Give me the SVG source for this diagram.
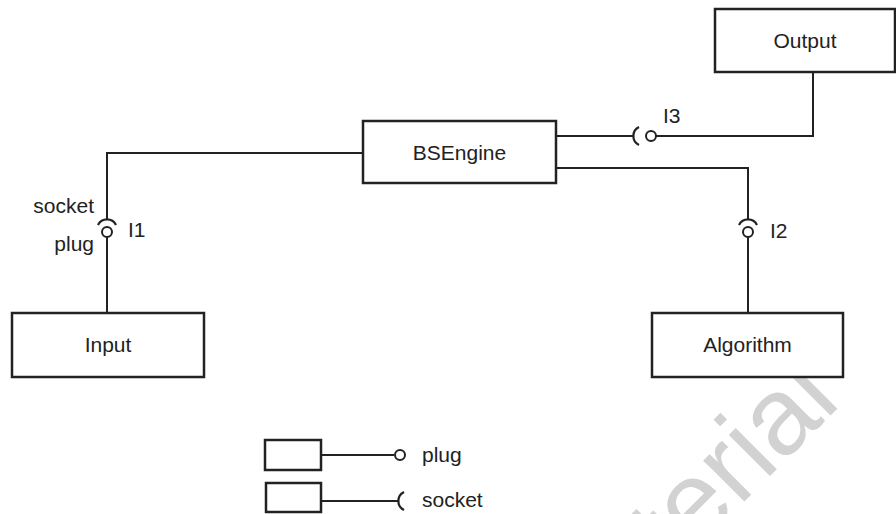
<svg xmlns="http://www.w3.org/2000/svg" width="896" height="514" viewBox="0 0 896 514">
<style>
.box{fill:#fff;stroke:#222;stroke-width:2.5}
.ln{fill:none;stroke:#222;stroke-width:2}
.ball{fill:#fff;stroke:#222;stroke-width:2}
.sock{fill:none;stroke:#222;stroke-width:2.2}
text{font-family:"Liberation Sans",Arial,sans-serif;font-size:21px;fill:#222}
.c{text-anchor:middle}
.e{text-anchor:end}
.wm{font-size:110px;fill:#d2d2d2}
</style>
<rect width="896" height="514" fill="#fff"/>
<text class="wm" transform="translate(566,680) rotate(-45)">Material</text>
<g id="connectors">
<path class="ln" d="M363,153 H107 V219"/>
<path class="ln" d="M107,237 V313"/>
<path class="ln" d="M556,136 H633"/>
<path class="ln" d="M656,136 H813 V72"/>
<path class="ln" d="M556,168 H748 V219"/>
<path class="ln" d="M748,237 V313"/>
</g>
<g id="I1">
<path class="sock" d="M98,225 A10,10 0 0 1 116,225"/>
<circle class="ball" cx="107" cy="232" r="5"/>
<text class="e" x="94" y="213">socket</text>
<text class="e" x="94" y="251">plug</text>
<text x="128" y="237">I1</text>
</g>
<g id="I2">
<path class="sock" d="M739,225 A10,10 0 0 1 757,225"/>
<circle class="ball" cx="748" cy="232" r="5"/>
<text x="770" y="238">I2</text>
</g>
<g id="I3">
<path class="sock" d="M639,145 A10,10 0 0 1 639,127"/>
<circle class="ball" cx="651" cy="136" r="5"/>
<text x="663" y="123">I3</text>
</g>
<g id="Output">
<rect class="box" x="715" y="9" width="180" height="63"/>
<text class="c" x="805" y="48">Output</text>
</g>
<g id="BSEngine">
<rect class="box" x="363" y="121" width="193" height="62"/>
<text class="c" x="459.5" y="160">BSEngine</text>
</g>
<g id="Input">
<rect class="box" x="12" y="313" width="192" height="64"/>
<text class="c" x="108" y="352">Input</text>
</g>
<g id="Algorithm">
<rect class="box" x="652" y="313" width="191" height="64"/>
<text class="c" x="747.5" y="352">Algorithm</text>
</g>
<g id="legend">
<rect class="box" x="265" y="440" width="56" height="30"/>
<path class="ln" d="M321,455 H394"/>
<circle class="ball" cx="400" cy="455" r="5"/>
<text x="422" y="462">plug</text>
<rect class="box" x="266" y="483" width="55" height="29"/>
<path class="ln" d="M321,501 H398"/>
<path class="sock" d="M404,510 A10,10 0 0 1 404,492"/>
<text x="422" y="507">socket</text>
</g>
</svg>
